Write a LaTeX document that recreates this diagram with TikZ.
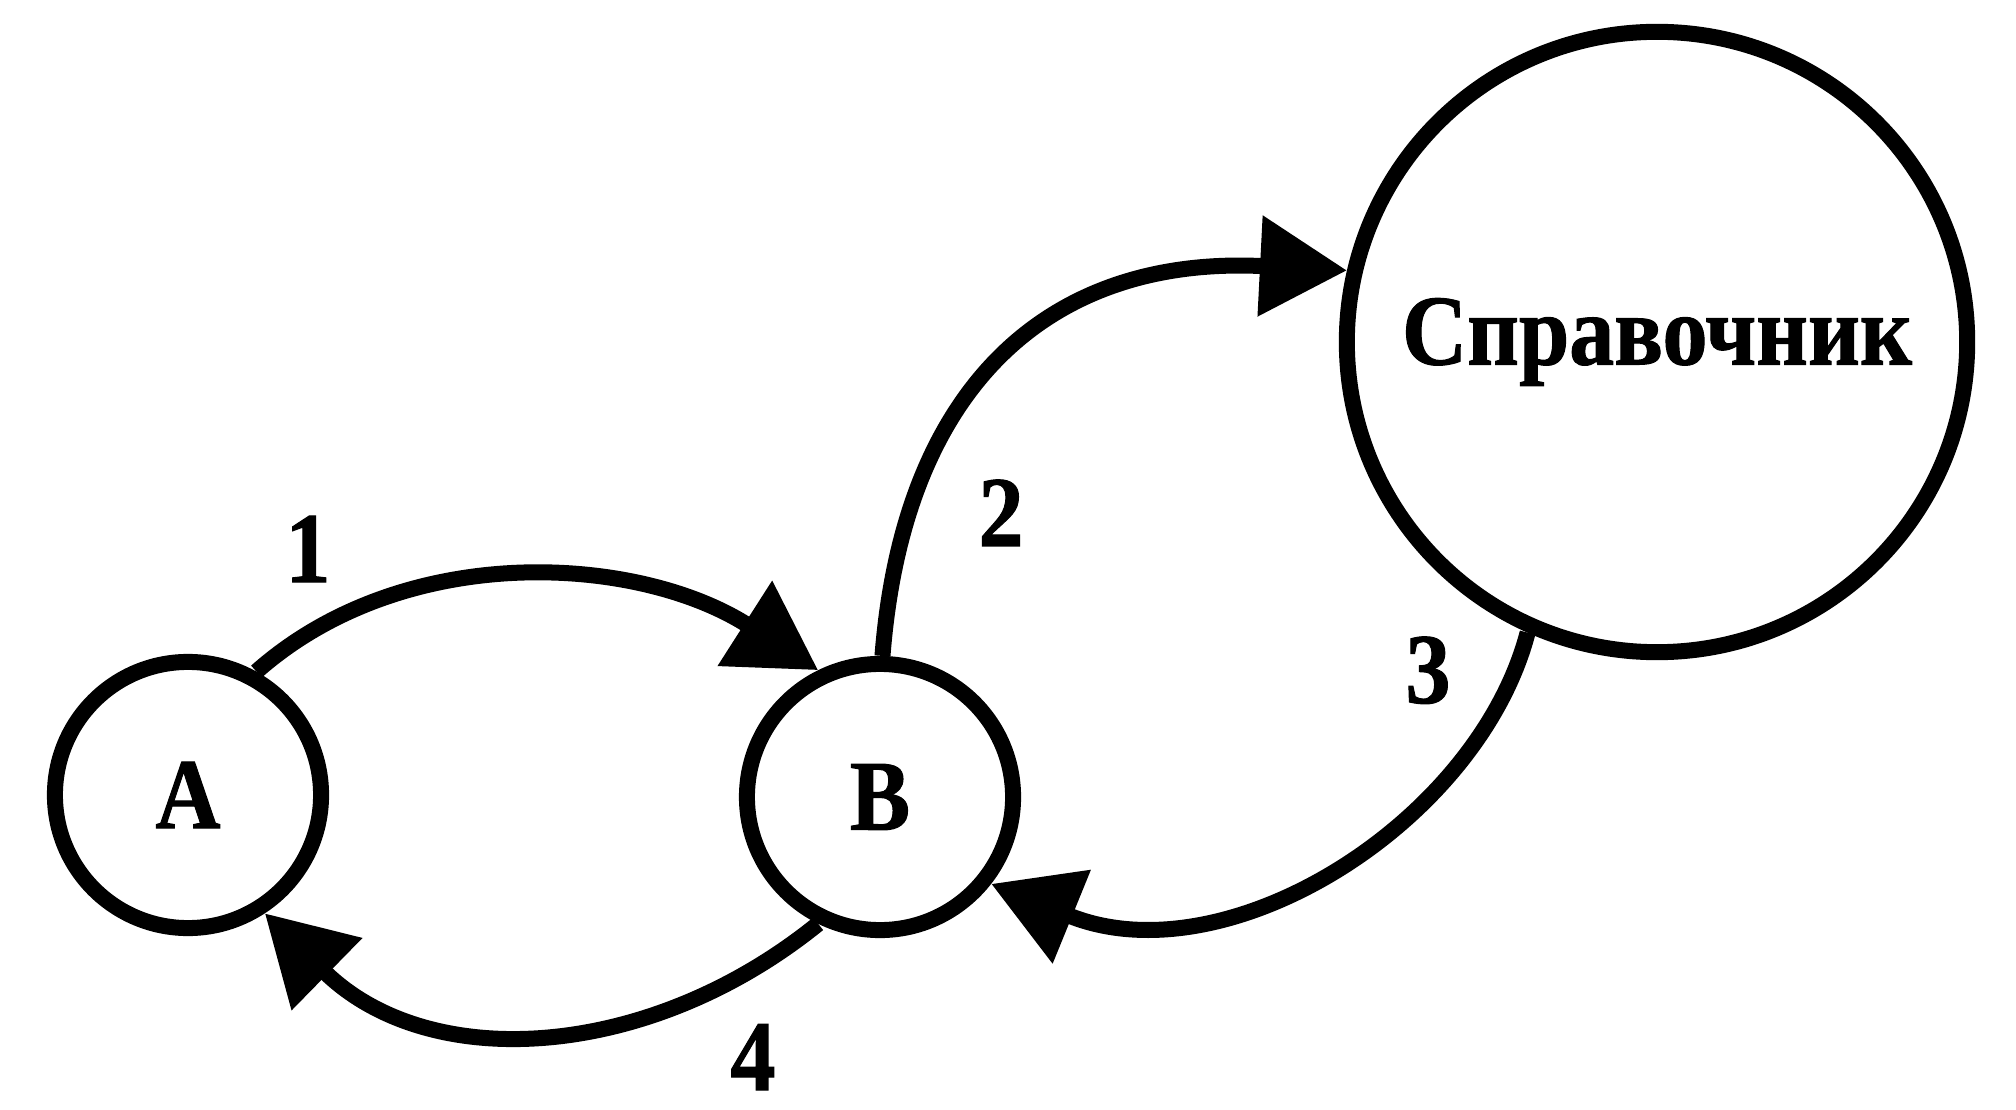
\documentclass[tikz,border=0pt]{standalone}
\usepackage{fontspec}
\setmainfont{Liberation Serif}[FakeStretch=0.9,FakeBold=1]
\usetikzlibrary{arrows.meta}
\begin{document}
\begin{tikzpicture}[x=0.01cm,y=-0.01cm,
  state/.style={circle,draw,line width=0.16cm,inner sep=0pt,font=\fontsize{28.5}{30}\selectfont\bfseries},
  edge/.style={line width=0.16cm,-{Triangle[length=0.87cm,width=0.97cm]}},
  lab/.style={anchor=base,inner sep=0pt,font=\fontsize{28.5}{30}\selectfont\bfseries}]
\useasboundingbox (0,0) rectangle (2016,1110);
\node[state,minimum size=2.66cm] (A) at (188,795) {A};
\node[state,minimum size=2.66cm] (B) at (880,797) {B};
\node[state,minimum size=6.2cm] (S) at (1657,342) {Справочник};
\draw[edge] (A.61) .. controls (405,540) and (638,555) .. (B.116);
\draw[edge] (B.89) .. controls (903,390) and (1046,255) .. (S.167);
\draw[edge] (S.246) .. controls (1478,822) and (1227,980) .. (B.-38);
\draw[edge] (B.244) .. controls (650,1060) and (430,1075) .. (A.-57);
\node[lab] (l1) at (308,582) {1};
\node[lab] (l2) at (1001,546) {2};
\node[lab] (l3) at (1428,703) {3};
\node[lab] (l4) at (753,1090) {4};
\end{tikzpicture}
\end{document}
